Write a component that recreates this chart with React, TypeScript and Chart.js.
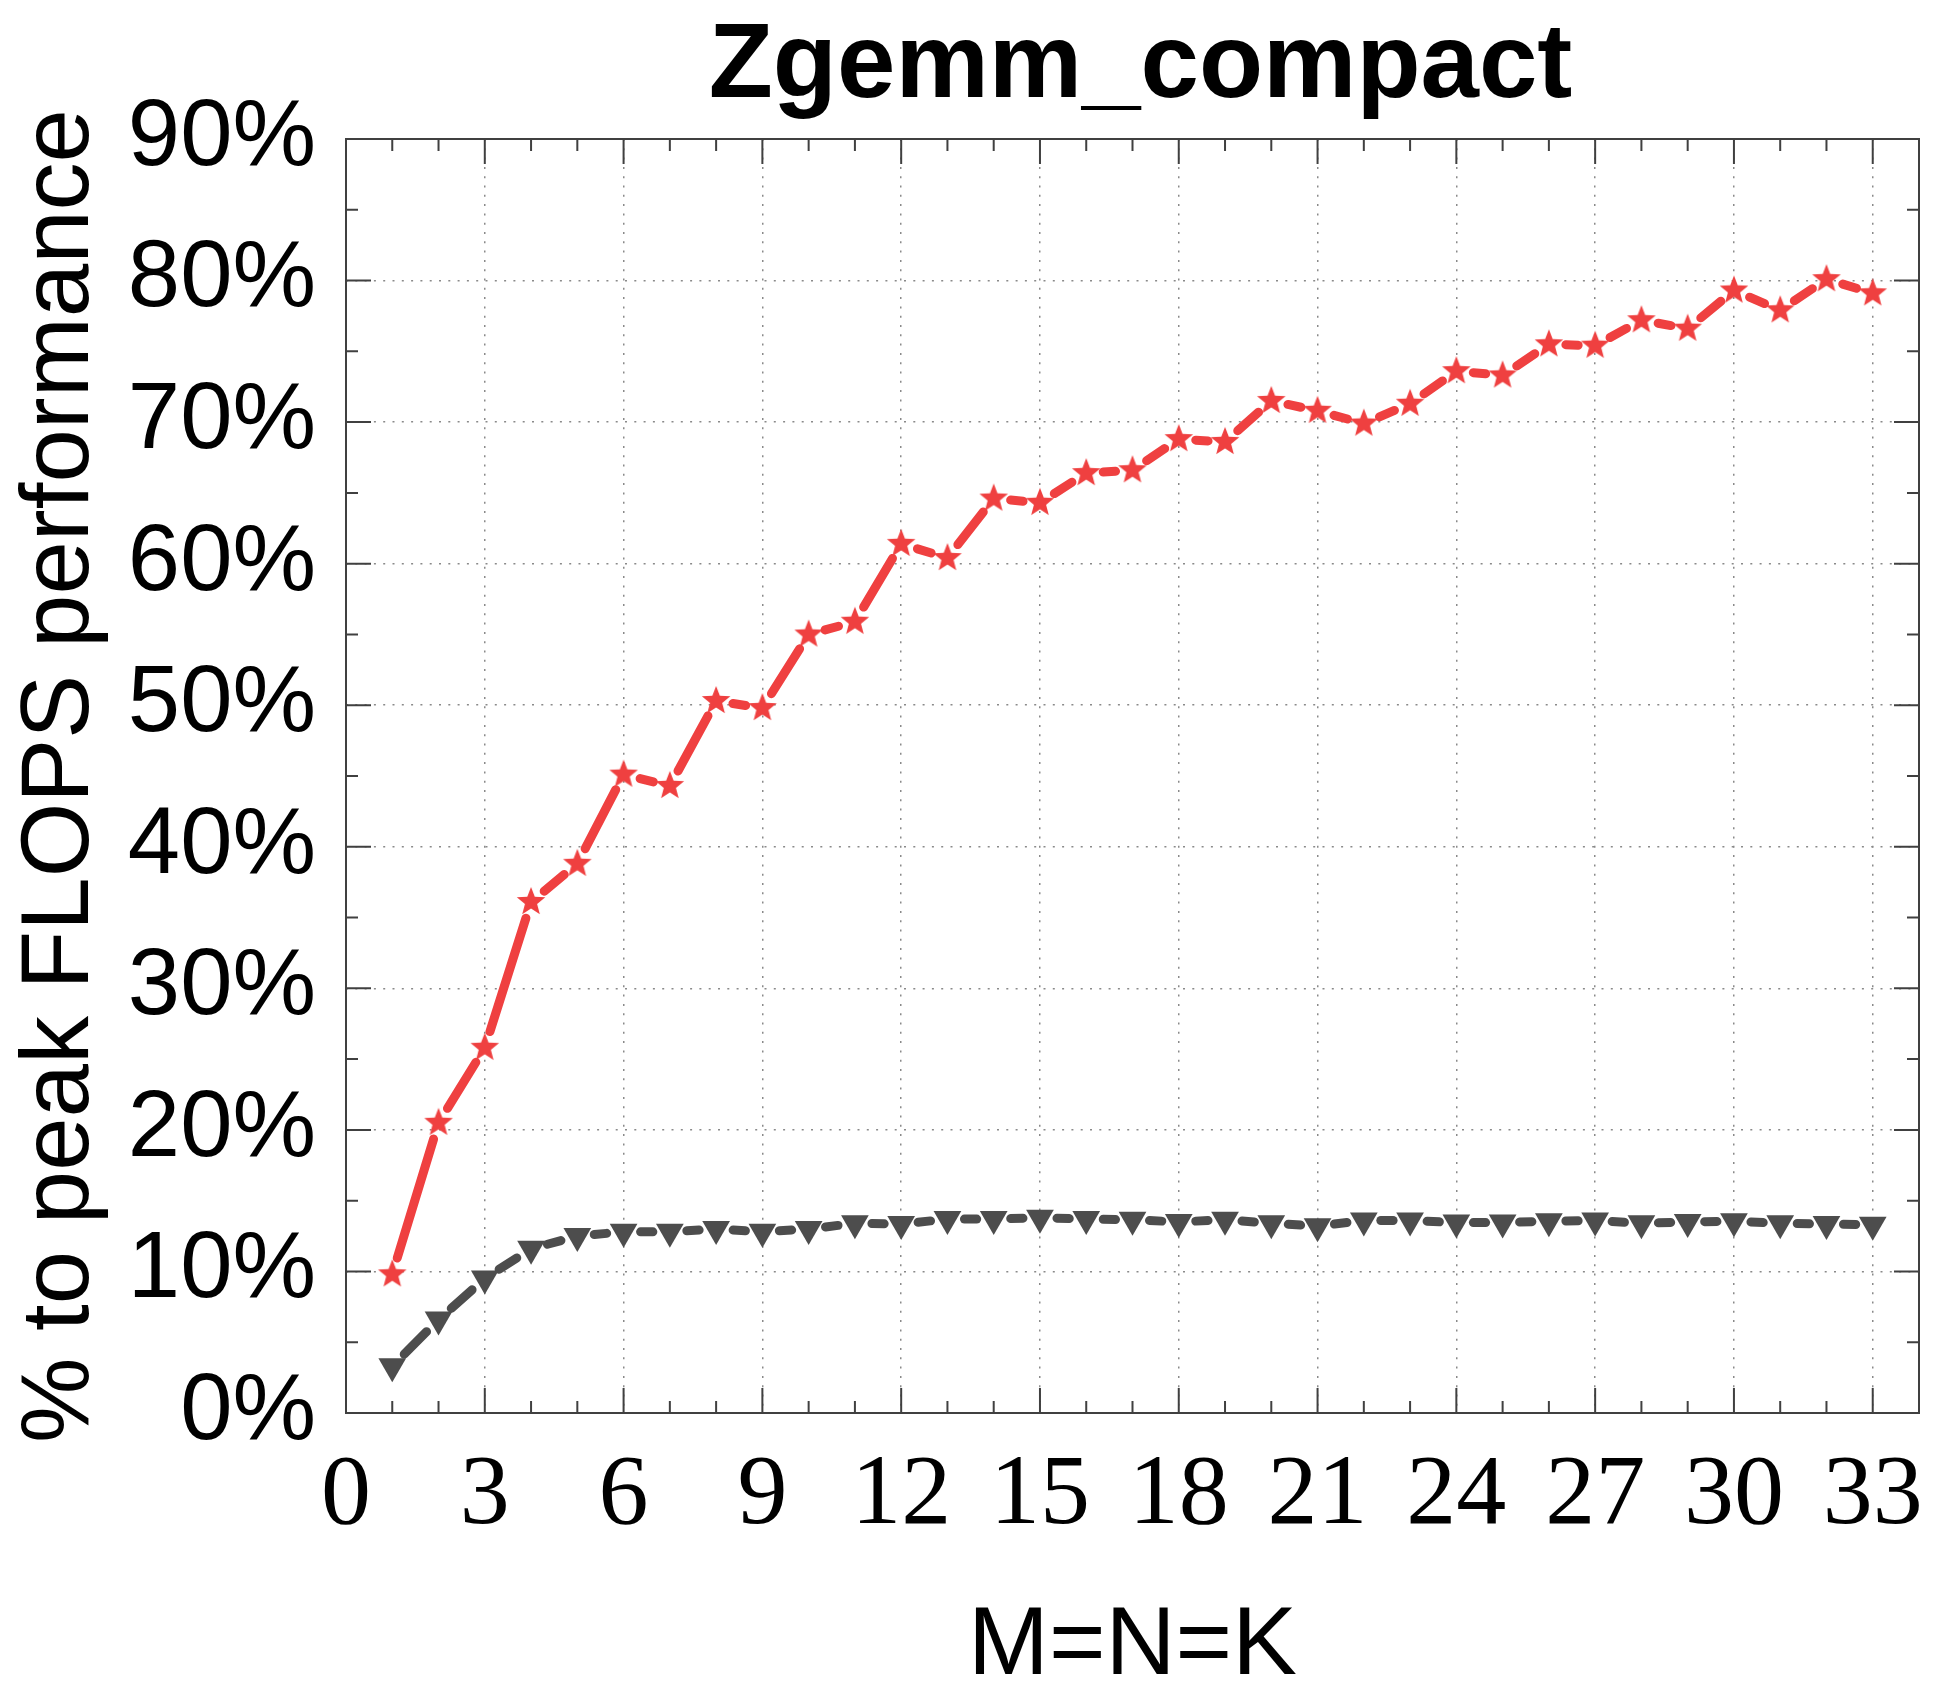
import React, { useEffect, useRef } from 'react';
import { Chart, registerables } from 'chart.js';

Chart.register(...registerables);

// ---- data ----
const TITLE = 'Zgemm_compact';
const X_TITLE = 'M=N=K';
const Y_TITLE = '% to peak FLOPS performance';

const sizes = [1, 2, 3, 4, 5, 6, 7, 8, 9, 10, 11, 12, 13, 14, 15, 16, 17, 18, 19, 20, 21, 22, 23, 24, 25, 26, 27, 28, 29, 30, 31, 32, 33];

const compactPct = [
  9.8, 20.5, 25.8, 36.1, 38.8, 45.1, 44.3, 50.3, 49.8, 55.0,
  55.9, 61.4, 60.4, 64.6, 64.3, 66.4, 66.6, 68.8, 68.6, 71.5,
  70.8, 69.9, 71.3, 73.6, 73.3, 75.5, 75.4, 77.2, 76.6, 79.3,
  77.9, 80.1, 79.1,
];

const referencePct = [
  3.3, 6.6, 9.5, 11.6, 12.5, 12.8, 12.8, 13.0, 12.8, 13.0,
  13.4, 13.35, 13.7, 13.7, 13.8, 13.7, 13.65, 13.5, 13.65, 13.4,
  13.2, 13.6, 13.6, 13.45, 13.45, 13.55, 13.6, 13.4, 13.5, 13.55,
  13.4, 13.35, 13.3,
];

const X_MIN = 0;
const X_MAX = 34;
const X_LABEL_STEP = 3;
const X_MINOR_STEP = 1;
const Y_MIN = 0;
const Y_MAX = 90;
const Y_LABEL_STEP = 10;
const Y_MINOR_STEP = 5;

// ---- styles ----
const RED = '#ef4040';
const GREY = '#4d4d4d';
const FRAME = '#404040';
const GAP = 17;
const TITLE_SHIFT = 8;

function makeStar(color: string, R: number, rIn: number): HTMLCanvasElement {
  const size = Math.ceil(2 * R + 4);
  const c = document.createElement('canvas');
  c.width = size;
  c.height = size;
  const g = c.getContext('2d')!;
  g.translate(size / 2, size / 2);
  g.beginPath();
  for (let i = 0; i < 10; i++) {
    const rad = i % 2 === 0 ? R : rIn;
    const a = -Math.PI / 2 + (i * Math.PI) / 5;
    const px = Math.cos(a) * rad;
    const py = Math.sin(a) * rad;
    if (i === 0) g.moveTo(px, py);
    else g.lineTo(px, py);
  }
  g.closePath();
  g.fillStyle = color;
  g.fill();
  return c;
}

const gappedSegment = {
  borderDash: (ctx: any) => {
    const L = Math.hypot(ctx.p1.x - ctx.p0.x, ctx.p1.y - ctx.p0.y);
    return [Math.max(L - 2 * GAP, 0.01), 2 * GAP + 10000 + ctx.p0DataIndex];
  },
  borderDashOffset: () => -GAP,
};

const frameTicksPlugin = {
  id: 'frameTicks',
  afterLayout(chart: any) {
    const tb = chart.titleBlock;
    if (tb) {
      tb.left += TITLE_SHIFT;
      tb.right += TITLE_SHIFT;
    }
  },
  beforeDatasetsDraw(chart: any) {
    const { ctx, chartArea, scales } = chart;
    const { left, right, top, bottom } = chartArea;
    const x = scales.x;
    const y = scales.y;
    ctx.save();
    ctx.strokeStyle = FRAME;
    ctx.lineWidth = 2;
    ctx.beginPath();
    for (let v = X_MIN; v <= X_MAX; v += X_MINOR_STEP) {
      const px = x.getPixelForValue(v);
      const len = v % X_LABEL_STEP === 0 ? 25 : 12;
      ctx.moveTo(px, bottom);
      ctx.lineTo(px, bottom - len);
      ctx.moveTo(px, top);
      ctx.lineTo(px, top + len);
    }
    for (let v = Y_MIN; v <= Y_MAX; v += Y_MINOR_STEP) {
      const py = y.getPixelForValue(v);
      const len = v % Y_LABEL_STEP === 0 ? 25 : 12;
      ctx.moveTo(left, py);
      ctx.lineTo(left + len, py);
      ctx.moveTo(right, py);
      ctx.lineTo(right - len, py);
    }
    ctx.stroke();
    ctx.strokeRect(left, top, right - left, bottom - top);
    ctx.restore();
  },
};

export default function App() {
  const ref = useRef<HTMLCanvasElement | null>(null);

  useEffect(() => {
    if (!ref.current) return;
    const star = makeStar(RED, 15, 6.4);
    const chart = new Chart(ref.current, {
      type: 'line',
      data: {
        datasets: [
          {
            label: 'compact',
            data: sizes.map((s, i) => ({ x: s, y: compactPct[i] })),
            borderColor: RED,
            borderWidth: 9,
            borderCapStyle: 'round',
            borderJoinStyle: 'round',
            pointStyle: star as any,
            pointRadius: 15,
            pointBackgroundColor: RED,
            pointBorderWidth: 0,
            fill: false,
            tension: 0,
            segment: gappedSegment as any,
          },
          {
            label: 'reference',
            data: sizes.map((s, i) => ({ x: s, y: referencePct[i] })),
            borderColor: GREY,
            borderWidth: 9,
            borderCapStyle: 'round',
            borderJoinStyle: 'round',
            pointStyle: 'triangle',
            pointRotation: 180,
            pointRadius: 16,
            pointBackgroundColor: GREY,
            pointBorderWidth: 0,
            fill: false,
            tension: 0,
            segment: gappedSegment as any,
          },
        ],
      },
      options: {
        animation: false,
        responsive: false,
        devicePixelRatio: 1,
        layout: { padding: { left: 0, right: 12, top: 0, bottom: 0 } },
        plugins: {
          legend: { display: false },
          tooltip: { enabled: false },
          title: {
            display: true,
            text: TITLE,
            fullSize: false,
            color: '#000',
            font: { family: 'Liberation Sans', size: 105, weight: 'bold', lineHeight: 1 },
            padding: { top: 16, bottom: 18 },
          },
        },
        scales: {
          x: {
            type: 'linear',
            min: X_MIN,
            max: X_MAX,
            afterFit: (s: any) => {
              s.height = 291;
              s.paddingLeft = 0;
              s.paddingRight = 0;
            },
            ticks: {
              stepSize: X_LABEL_STEP,
              includeBounds: false,
              autoSkip: false,
              maxRotation: 0,
              color: '#000',
              padding: 34,
              font: { family: 'Liberation Serif', size: 100, lineHeight: 1 },
            },
            grid: { color: '#8a8a8a', lineWidth: 1.5, drawTicks: false },
            border: { display: false, dash: [2, 7.3] },
            title: {
              display: true,
              text: X_TITLE,
              color: '#000',
              font: { family: 'Liberation Sans', size: 97, lineHeight: 1 },
              padding: { top: 0, bottom: 8 },
            },
          },
          y: {
            type: 'linear',
            min: Y_MIN,
            max: Y_MAX,
            afterFit: (s: any) => {
              s.width = 346;
              s.paddingTop = 0;
              s.paddingBottom = 0;
            },
            ticks: {
              stepSize: Y_LABEL_STEP,
              color: '#000',
              padding: 30,
              callback: (v: any) => `${v}%`,
              font: { family: 'Liberation Sans', size: 94, lineHeight: 1 },
            },
            grid: { color: '#8a8a8a', lineWidth: 1.5, drawTicks: false },
            border: { display: false, dash: [2, 7.3] },
            title: {
              display: true,
              text: Y_TITLE,
              color: '#000',
              font: { family: 'Liberation Sans', size: 96, lineHeight: 1 },
              padding: { top: 14, bottom: 0 },
            },
          },
        },
      },
      plugins: [frameTicksPlugin],
    });
    return () => chart.destroy();
  }, []);

  return (
    <div style={{ position: 'absolute', left: 0, top: 0, width: 1935, height: 1704, background: '#fff' }}>
      <canvas ref={ref} width={1935} height={1704} style={{ display: 'block' }} />
    </div>
  );
}
